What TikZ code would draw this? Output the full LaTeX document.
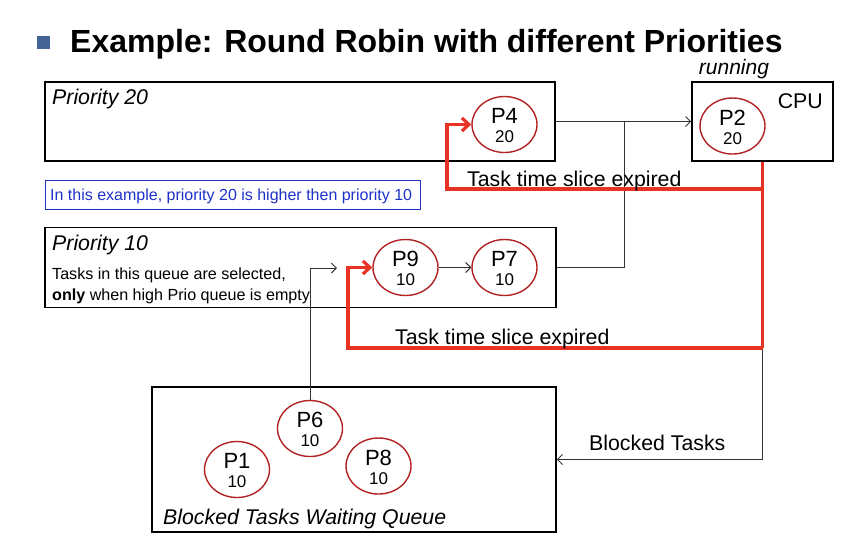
\documentclass[tikz,border=0pt]{standalone}
\usepackage{fontspec}
\setmainfont{Liberation Sans}
\usetikzlibrary{shapes.geometric,arrows.meta}
\definecolor{ered}{RGB}{178,34,34}
\definecolor{rred}{RGB}{232,50,36}
\definecolor{bulletblue}{RGB}{68,100,150}
\definecolor{noteblue}{RGB}{30,50,200}
\tikzset{
  qbox/.style={draw=black,line width=1.6pt,inner sep=0pt},
  proc/.style={ellipse,draw=ered,line width=1.4pt,minimum width=65pt,minimum height=56pt,inner sep=0pt},
  pname/.style={inner sep=0pt,font=\fontsize{22}{22}\selectfont},
  pprio/.style={inner sep=0pt,font=\fontsize{17}{18}\selectfont},
  conn/.style={draw=black!80,line width=1pt,-{Straight Barb[length=5pt,width=10pt]}},
  plain/.style={draw=black!80,line width=1pt},
  redarr/.style={draw=rred,line width=3.2pt,-{Straight Barb[length=7pt,width=13pt,line width=3.2pt]}},
  lbl/.style={inner sep=0pt,font=\fontsize{21.3}{24}\selectfont},
  ilbl/.style={inner sep=0pt,font=\fontsize{21.3}{24}\selectfont\itshape},
}
\newcommand{\procnode}[4]{%
  \node[proc] (#1) at (#2) {};
  \node[pname] (#1n) at ([yshift=8.5pt]#1.center) {#3};
  \node[pprio] (#1p) at ([yshift=-12.5pt]#1.center) {#4};
}
\begin{document}
\begin{tikzpicture}[x=1pt,y=-1pt]
\useasboundingbox (0,0) rectangle (860,542);
% title
\fill[bulletblue] (37,36) rectangle (50,49) coordinate (bul);
\node[anchor=base west,inner sep=0pt,font=\fontsize{32}{34}\selectfont\bfseries] (title) at (70,52) {Example: Round Robin with different Priorities};
\node[anchor=base,inner sep=0pt,font=\fontsize{21}{22}\selectfont\itshape] (running) at (734,74) {running};
% boxes
\node[qbox,minimum width=510pt,minimum height=79pt] (p20) at (300,121.5) {};
\node[qbox,minimum width=141pt,minimum height=79pt] (cpu) at (762.5,121.5) {};
\node[qbox,minimum width=511pt,minimum height=80pt] (p10) at (300.5,267.5) {};
\node[qbox,minimum width=404pt,minimum height=145pt] (blk) at (354,459.5) {};
\node[draw=noteblue,line width=0.8pt,minimum width=375pt,minimum height=29pt,inner sep=0pt] (note) at (232.5,195) {};
\node[anchor=base west,inner sep=0pt,text=noteblue,font=\fontsize{16}{16}\selectfont] (notetxt) at (50,200.5) {In this example, priority 20 is higher then priority 10};
% labels
\node[ilbl,anchor=base west] (l20) at (52,104.5) {Priority 20};
\node[ilbl,anchor=base west] (l10) at (52,250.5) {Priority 10};
\node[anchor=base west,inner sep=0pt,font=\fontsize{16.1}{20}\selectfont] (l10b) at (52,279) {Tasks in this queue are selected,};
\node[anchor=base west,inner sep=0pt,font=\fontsize{16.1}{20}\selectfont] (l10c) at (52,300.5) {\textbf{only} when high Prio queue is empty};
\node[lbl,anchor=base east] (cputxt) at (823,108) {CPU};
\node[ilbl,anchor=base west] (lblk) at (163,524) {Blocked Tasks Waiting Queue};
% processes
\procnode{P4}{504.5,124.5}{P4}{20}
\procnode{P2}{732.5,126}{P2}{20}
\procnode{P9}{405.5,267.5}{P9}{10}
\procnode{P7}{504.5,267.5}{P7}{10}
\procnode{P6}{310,428.5}{P6}{10}
\procnode{P1}{237,469.5}{P1}{10}
\procnode{P8}{378.5,466}{P8}{10}
% coordinates
\coordinate (j1) at (624,121.5);
\coordinate (r1) at (762.5,189);
\coordinate (r1l) at (447,189);
\coordinate (r2) at (762.5,348);
\coordinate (r2l) at (348,348);
\coordinate (a6) at (337,268);
% black connectors
\draw[conn] (p20.east) -- (cpu.west);
\draw[plain] (p10.east) -| (j1);
\draw[conn] (P9) -- (P7);
\draw[conn] (P6.north) |- (a6);
\draw[conn] (r2) |- (blk.east);
% red connectors
\draw[draw=rred,line width=3.2pt] (cpu.south) -- (r2);
\draw[redarr] (r1) -- (r1l) |- (P4.west);
\draw[redarr] (r2) -- (r2l) |- (P9.west);
% texts
\node[lbl,anchor=base west] (t1) at (467,186) {Task time slice expired};
\node[lbl,anchor=base west] (t2) at (395,344) {Task time slice expired};
\node[lbl,anchor=base west] (t3) at (589,450) {Blocked Tasks};
\end{tikzpicture}
\end{document}
